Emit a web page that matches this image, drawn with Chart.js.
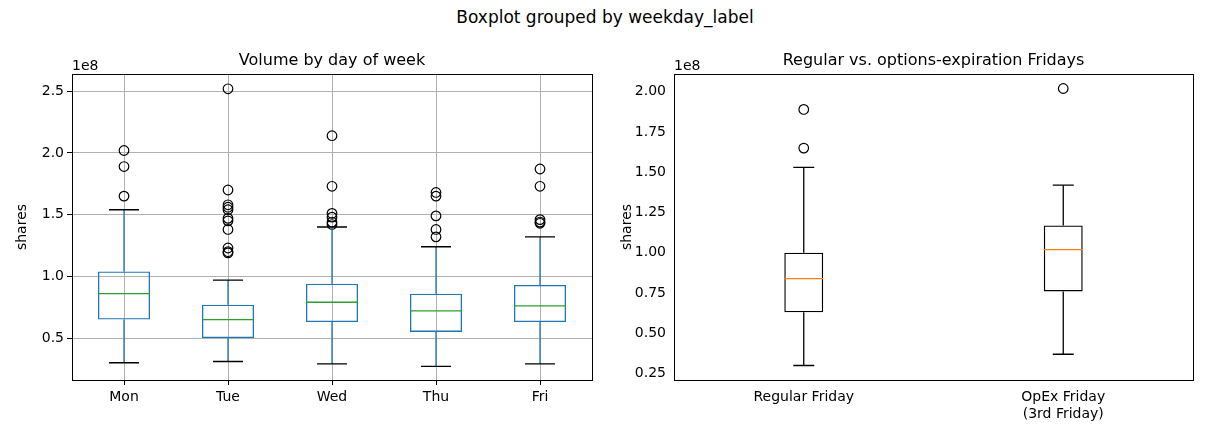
<!DOCTYPE html>
<html><head><meta charset="utf-8">
<script src="https://cdn.jsdelivr.net/npm/chart.js@4"></script>
<style>
body{margin:0;background:#fff;font-family:"DejaVu Sans",sans-serif;}
#sup{position:absolute;top:7px;left:0;width:1210px;text-align:center;font-size:17px;}
canvas{position:absolute;top:0;}
</style></head><body>
<div id="sup">Boxplot grouped by weekday_label</div>
<canvas id="c1" style="left:0"></canvas>
<canvas id="c2" style="left:605px"></canvas>
<script>
// box stats in units of 1e8 shares
const days = ["Mon","Tue","Wed","Thu","Fri"];
const dayLow = [0.30,0.31,0.29,0.27,0.29];
const dayQ1 = [0.65,0.50,0.63,0.55,0.63];
const dayMed = [0.86,0.65,0.79,0.72,0.76];
const dayQ3 = [1.04,0.77,0.94,0.86,0.93];
const dayHigh = [1.54,0.97,1.40,1.24,1.32];
const dayOut = [
  [2.02,1.89,1.65],
  [2.52,1.70,1.58,1.56,1.54,1.47,1.45,1.38,1.23,1.20,1.19],
  [2.14,1.73,1.51,1.48,1.44,1.42],
  [1.68,1.65,1.49,1.38,1.32],
  [1.87,1.73,1.46,1.44,1.43]
];
const fri = [["Regular Friday"],["OpEx Friday","(3rd Friday)"]];
const friLow = [0.30,0.37];
const friQ1 = [0.63,0.76];
const friMed = [0.84,1.02];
const friQ3 = [1.00,1.17];
const friHigh = [1.53,1.42];
const friOut = [[1.89,1.65],[2.02]];

const FONT = "DejaVu Sans";
Chart.defaults.font.family = FONT;
Chart.defaults.color = "#000";

function makeBox(id, labels, low, q1, med, q3, high, outs, o) {
  const pts = [];
  outs.forEach((arr, i) => arr.forEach(v => pts.push({x: i, y: v})));
  const whisk = {
    id: "whisk",
    afterDatasetsDraw(chart) {
      const ctx = chart.ctx, xs = chart.scales.x, ys = chart.scales.y;
      const meta = chart.getDatasetMeta(0);
      const a = chart.chartArea;
      ctx.save();
      ctx.lineWidth = 1.3;
      labels.forEach((l, i) => {
        const x = xs.getPixelForValue(i);
        const bw = meta.data[i].width;
        ctx.strokeStyle = o.boxColor;
        ctx.beginPath();
        ctx.moveTo(x, ys.getPixelForValue(q1[i])); ctx.lineTo(x, ys.getPixelForValue(low[i]));
        ctx.moveTo(x, ys.getPixelForValue(q3[i])); ctx.lineTo(x, ys.getPixelForValue(high[i]));
        ctx.stroke();
        ctx.strokeStyle = "#000";
        ctx.beginPath();
        [low[i], high[i]].forEach(v => {
          const y = ys.getPixelForValue(v);
          ctx.moveTo(x - o.cap, y); ctx.lineTo(x + o.cap, y);
        });
        ctx.stroke();
        ctx.strokeStyle = o.medColor;
        ctx.beginPath();
        const ym = ys.getPixelForValue(med[i]);
        ctx.moveTo(x - bw / 2, ym); ctx.lineTo(x + bw / 2, ym);
        ctx.stroke();
      });
      ctx.strokeStyle = "#000";
      ctx.lineWidth = 1;
      ctx.strokeRect(a.left + 0.5, a.top + 0.5, a.right - a.left, a.bottom - a.top);
      ctx.fillStyle = "#000";
      ctx.font = "16px " + FONT;
      ctx.textAlign = "center";
      ctx.fillText(o.title, (a.left + a.right) / 2, 65);
      ctx.textAlign = "left";
      ctx.font = "14px " + FONT;
      ctx.fillText("1e8", a.left, 70);
      ctx.restore();
    }
  };
  const c = document.getElementById(id);
  c.width = 605; c.height = 440;
  return new Chart(c, {
    type: "bar",
    data: {
      labels: labels,
      datasets: [
        {data: labels.map((l, i) => [q1[i], q3[i]]), backgroundColor: "rgba(0,0,0,0)",
         borderColor: o.boxColor, borderWidth: 1.3, borderSkipped: false,
         barPercentage: o.barPct, categoryPercentage: 1},
        {type: "line", data: pts, parsing: false, showLine: false, pointRadius: 4.8, pointBorderWidth: 1.2,
         pointBackgroundColor: "rgba(0,0,0,0)", pointBorderColor: "#000"}
      ]
    },
    options: {
      responsive: false, animation: false,
      layout: {padding: {top: 74, right: o.padR, left: 0, bottom: 0}},
      plugins: {legend: {display: false}, tooltip: {enabled: false}},
      scales: {
        x: {type: "category", offset: true,
            grid: {display: o.grid, offset: false, color: "#b0b0b0", tickColor: "#000", tickLength: 5},
            border: {color: "#000"},
            ticks: {font: {size: 14}, padding: 4},
            afterFit: s => { s.height = 60; }},
        y: {min: o.min, max: o.max,
            grid: {display: o.grid, color: "#b0b0b0", tickColor: "#000", tickLength: 5},
            border: {color: "#000"},
            ticks: {font: {size: 14}, callback: v => v.toFixed(o.dec)},
            afterBuildTicks: s => {
              const t = [];
              for (let v = Math.ceil(o.min / o.step) * o.step; v <= o.max + 1e-9; v += o.step) t.push({value: +v.toFixed(4)});
              s.ticks = t;
            },
            title: {display: true, text: "shares", font: {size: 14}, padding: {top: 14, bottom: 0}},
            afterFit: s => { s.width = o.axW; }}
      }
    },
    plugins: [whisk]
  });
}

makeBox("c1", days, dayLow, dayQ1, dayMed, dayQ3, dayHigh, dayOut,
  {boxColor: "#1f77b4", medColor: "#2ca02c", cap: 15, barPct: 0.5, grid: true,
   min: 0.16, max: 2.64, step: 0.5, dec: 1, axW: 72, padR: 13, title: "Volume by day of week"});
makeBox("c2", fri, friLow, friQ1, friMed, friQ3, friHigh, friOut,
  {boxColor: "#000", medColor: "#ff7f0e", cap: 10.5, barPct: 0.15, grid: false,
   min: 0.21, max: 2.11, step: 0.25, dec: 2, axW: 69, padR: 17, title: "Regular vs. options-expiration Fridays"});
</script>
</body></html>
